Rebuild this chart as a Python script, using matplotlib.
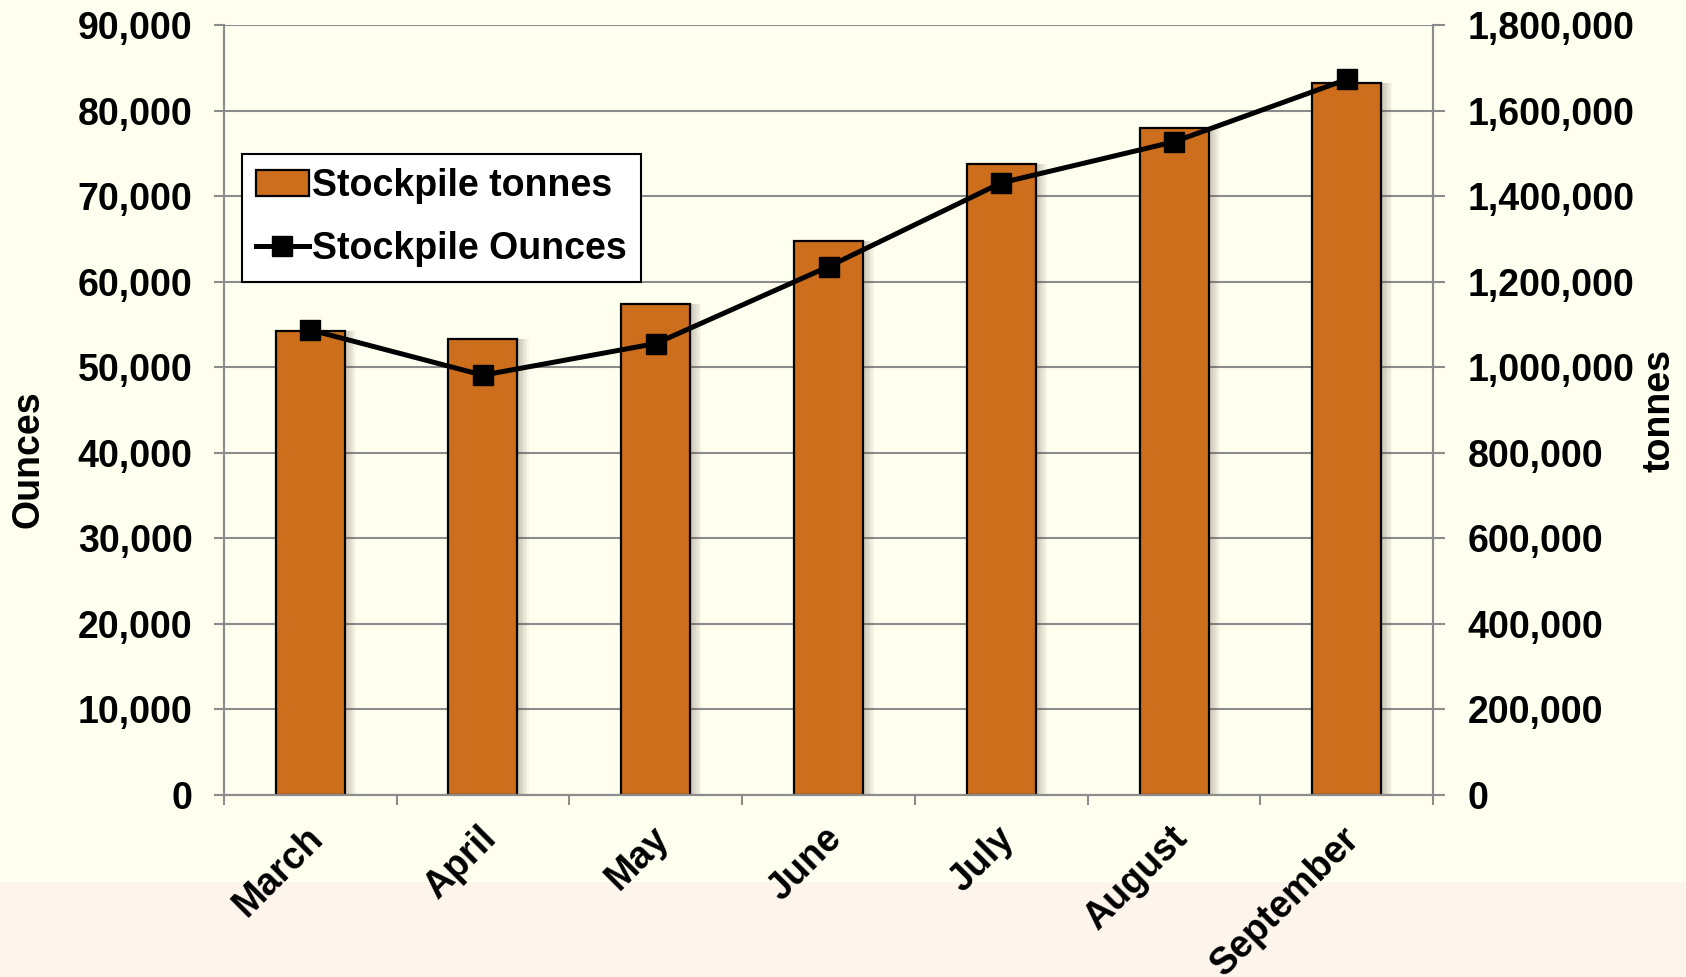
#!/usr/bin/env python3
"""Stockpile tonnes (bars) and ounces (line) by month, dual axis."""
import matplotlib

matplotlib.use("Agg")
import matplotlib.pyplot as plt
from matplotlib.patches import Rectangle
from matplotlib.ticker import FuncFormatter, MultipleLocator
from matplotlib.transforms import ScaledTranslation

months = ["March", "April", "May", "June", "July", "August", "September"]
stockpile_tonnes = [1086000, 1066000, 1149000, 1295000, 1476000, 1560000, 1665000]
stockpile_ounces = [54400, 49100, 52800, 61800, 71600, 76400, 83700]

BAR_COLOR = "#CD6E1D"
GRID_COLOR = "#8C8C8C"
BG_TOP = "#FFFFF0"
BG_BAND = "#FDF5EC"
FS = 27

plt.rcParams["font.family"] = ["Liberation Sans", "DejaVu Sans"]
plt.rcParams["font.weight"] = "bold"

fig = plt.figure(figsize=(16.86, 9.77), dpi=100, facecolor=BG_TOP)
fig.patches.append(
    Rectangle((0, 0), 1, (977 - 882) / 977, transform=fig.transFigure,
              facecolor=BG_BAND, edgecolor="none", zorder=-1)
)

ax = fig.add_axes([0.1327, 0.1863, 0.8501 - 0.1327, 0.9739 - 0.1863])
ax2 = ax.twinx()
ax.set_zorder(ax2.get_zorder() + 1)
ax.patch.set_visible(False)
ax2.patch.set_visible(False)

x = list(range(len(months)))
width = 0.4

# soft shadow to the right of each bar
for i in range(1, 9):
    ax2.bar([v + 0.008 * i for v in x], stockpile_tonnes, width=width,
            color="#5a4a3a", alpha=0.045, edgecolor="none", zorder=1)

bars = ax2.bar(x, stockpile_tonnes, width=width, color=BAR_COLOR,
               edgecolor="black", linewidth=1.6, zorder=2,
               label="Stockpile tonnes")

line, = ax.plot(x, stockpile_ounces, color="black", linewidth=3.6,
                marker="s", markersize=14, label="Stockpile Ounces", zorder=3)

ax.set_xlim(-0.5, len(months) - 0.5)
ax.set_ylim(0, 90000)
ax2.set_ylim(0, 1800000)
ax.yaxis.set_major_locator(MultipleLocator(10000))
ax2.yaxis.set_major_locator(MultipleLocator(200000))
fmt = FuncFormatter(lambda v, p: f"{v:,.0f}")
ax.yaxis.set_major_formatter(fmt)
ax2.yaxis.set_major_formatter(fmt)

ax2.set_axisbelow(True)
ax2.yaxis.grid(True, color=GRID_COLOR, linewidth=1.5)

for a in (ax, ax2):
    for side, spine in a.spines.items():
        spine.set_color(GRID_COLOR)
        spine.set_linewidth(1.5)
    a.spines["top"].set_visible(False)

ax.tick_params(axis="y", direction="out", length=7.5, width=1.5,
               color=GRID_COLOR, pad=15, labelsize=FS)
ax2.tick_params(axis="y", direction="out", length=8.5, width=1.5,
                color=GRID_COLOR, pad=16, labelsize=FS)

ax.set_xticks(x)
ax.set_xticks([v - 0.5 for v in x] + [x[-1] + 0.5], minor=True)
ax.tick_params(axis="x", which="major", length=0, pad=18, labelsize=FS)
ax.tick_params(axis="x", which="minor", direction="out", length=7.5,
               width=1.5, color=GRID_COLOR)
ax.set_xticklabels(months, rotation=45, ha="right", va="top",
                   rotation_mode="anchor")
offset = ScaledTranslation(-0.05, 0, fig.dpi_scale_trans)
for lbl in ax.get_xticklabels():
    lbl.set_transform(lbl.get_transform() + offset)

fig.text(29 / 1686, 1 - 459 / 977, "Ounces", rotation=90, fontsize=FS,
         fontweight="bold", ha="center", va="center")
fig.text(1660 / 1686, 1 - 411 / 977, "tonnes", rotation=90, fontsize=FS,
         fontweight="bold", ha="center", va="center")

leg = ax.legend(handles=[bars, line], loc="upper left",
                bbox_to_anchor=(0.0149, 0.833), borderaxespad=0,
                fontsize=FS, frameon=True, fancybox=False,
                handlelength=1.4, handletextpad=0.1, labelspacing=0.72,
                borderpad=0.38)
leg.get_frame().set_edgecolor("black")
leg.get_frame().set_linewidth(1.5)
leg.get_frame().set_facecolor("white")
leg.get_frame().set_alpha(1)

fig.savefig("out.png", dpi=100, facecolor=fig.get_facecolor())
